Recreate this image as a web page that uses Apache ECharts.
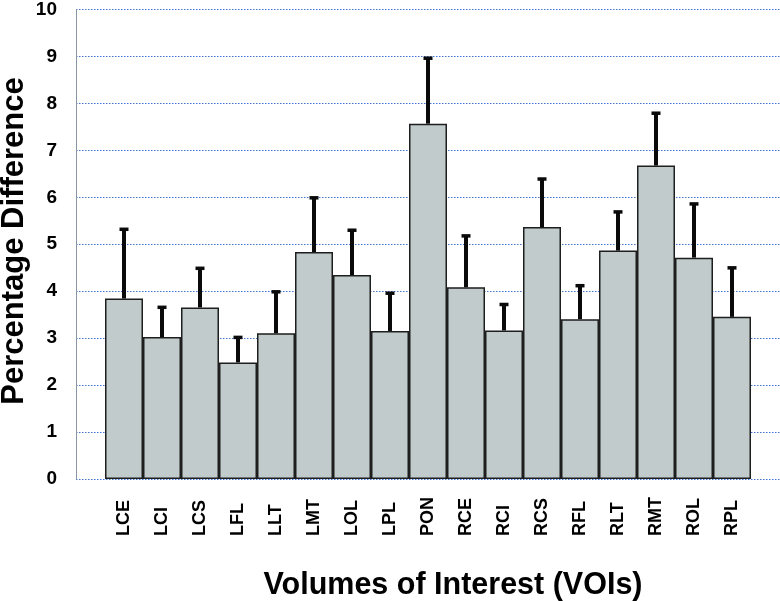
<!DOCTYPE html>
<html>
<head>
<meta charset="utf-8">
<script src="https://cdn.jsdelivr.net/npm/echarts@6/dist/echarts.min.js"></script>
<style>
html,body{margin:0;padding:0;background:#fff;}
#chart{width:780px;height:601px;}
</style>
</head>
<body>
<div id="chart"></div>
<script>
const categories = ['LCE','LCI','LCS','LFL','LLT','LMT','LOL','LPL','PON','RCE','RCI','RCS','RFL','RLT','RMT','ROL','RPL'];
const meanValues = [3.84,3.02,3.65,2.48,3.10,4.83,4.34,3.15,7.56,4.08,3.16,5.36,3.40,4.86,6.67,4.71,3.45];
const sdValues = [1.51,0.67,0.87,0.57,0.92,1.19,0.99,0.84,1.43,1.13,0.59,1.06,0.75,0.86,1.15,1.18,1.08];
const yTicks = [0,1,2,3,4,5,6,7,8,9,10];

const FONT = "Liberation Sans, Arial, sans-serif";
const chart = echarts.init(document.getElementById('chart'), null, {renderer:'canvas'});

const errData = categories.map((c, i) => [i, meanValues[i], meanValues[i] + sdValues[i]]);

chart.setOption({
  animation: false,
  backgroundColor: '#ffffff',
  grid: [
    {left: 105, right: 29, top: 9, bottom: 122},
    {left: 76, right: 0, top: 9, bottom: 122}
  ],
  xAxis: [
    {
      type: 'category', gridIndex: 0, data: categories,
      boundaryGap: true,
      axisLine: {show: false}, axisTick: {show: false},
      axisLabel: {
        rotate: 90, align: 'left', margin: 57, interval: 0,
        fontFamily: FONT, fontWeight: 'bold', fontSize: 18, color: '#000'
      }
    },
    {type: 'value', gridIndex: 1, min: 0, max: 1, show: false}
  ],
  yAxis: [
    {type: 'value', gridIndex: 0, min: 0, max: 10, interval: 1, show: false},
    {
      type: 'value', gridIndex: 1, min: 0, max: 10, interval: 1,
      axisLine: {show: true, lineStyle: {color: '#8a96a6', width: 1}},
      axisTick: {show: false},
      axisLabel: {
        margin: 19, fontFamily: FONT, fontWeight: 'bold', fontSize: 19, color: '#000',
        formatter: v => yTicks.includes(v) ? String(v) : ''
      },
      splitLine: {show: true, lineStyle: {color: '#3f72d2', type: [1.5, 1.5], width: 1}}
    }
  ],
  series: [
    {
      type: 'scatter', xAxisIndex: 1, yAxisIndex: 1, data: [], silent: true
    },
    {
      type: 'bar', xAxisIndex: 0, yAxisIndex: 0,
      data: meanValues,
      barWidth: '100%', barCategoryGap: '0%',
      itemStyle: {color: '#c1cbcb', borderColor: '#1e1e1e', borderWidth: 1.5},
      z: 2
    },
    {
      type: 'custom', xAxisIndex: 0, yAxisIndex: 0,
      data: errData,
      z: 3,
      renderItem: function(params, api) {
        const x = api.value(0);
        const lo = api.coord([x, api.value(1)]);
        const hi = api.coord([x, api.value(2)]);
        return {
          type: 'group',
          children: [
            {type: 'line', shape: {x1: lo[0], y1: lo[1], x2: hi[0], y2: hi[1] + 1},
             style: {stroke: '#0a0a0a', lineWidth: 4}},
            {type: 'rect', shape: {x: hi[0] - 4.5, y: hi[1], width: 9, height: 3.5},
             style: {fill: '#0a0a0a'}}
          ]
        };
      }
    }
  ],
  graphic: [
    {
      type: 'text', x: 14, y: 241, rotation: Math.PI / 2,
      style: {
        text: 'Percentage Difference', font: "bold 31px " + FONT,
        fill: '#000', textAlign: 'center', textVerticalAlign: 'middle'
      }
    },
    {
      type: 'text', x: 453, y: 586,
      style: {
        text: 'Volumes of Interest (VOIs)', font: "bold 30.5px " + FONT,
        fill: '#000', textAlign: 'center', textVerticalAlign: 'middle'
      }
    }
  ]
});
</script>
</body>
</html>
